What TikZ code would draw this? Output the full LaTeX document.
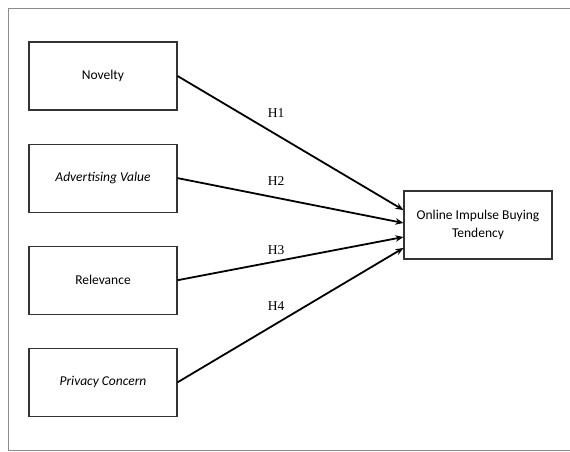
\documentclass[tikz,border=0pt]{standalone}
\usepackage{fontspec}
\setmainfont{Carlito}
\newfontfamily\hypfont{Liberation Serif}
\usetikzlibrary{positioning}
\usetikzlibrary{arrows.meta}

\begin{document}
\begin{tikzpicture}
		[x=1pt, y=-1pt,
		factor/.style={rectangle, draw=black!80, line width=1.1pt, minimum width=148pt, minimum height=68pt, align=center, font=\fontsize{13.5}{18}\selectfont, node distance=33pt},
		hyp/.style={font=\hypfont\fontsize{13.5}{16}\selectfont},
		link/.style={-{Stealth[length=8pt, width=6.5pt]}, line width=1.8pt}]
		\useasboundingbox (0,0) rectangle (570,451);
		\draw[black!45, line width=1pt] (8,8) rectangle (590,450);
		\node[factor] (nov) at (103,76) {Novelty};
		\node[factor, below=of nov] (adv) {\itshape Advertising Value};
		\node[factor, below=of adv] (rel) {Relevance};
		\node[factor, below=of rel] (prc) {\itshape Privacy Concern};
		\node[factor] (oib) at (478,225) {Online Impulse Buying\\Tendency};
		\draw[link] (nov.east) -- ([yshift=15pt]oib.west);
		\draw[link] (adv.east) -- ([yshift=2pt]oib.west);
		\draw[link] (rel.east) -- ([yshift=-12pt]oib.west);
		\draw[link] (prc.east) -- ([yshift=-23pt]oib.west);
		\node[hyp] (h1) at (276,113) {H1};
		\node[hyp] (h2) at (276,181) {H2};
		\node[hyp] (h3) at (276,250) {H3};
		\node[hyp] (h4) at (276,306) {H4};
	\end{tikzpicture}
\end{document}
